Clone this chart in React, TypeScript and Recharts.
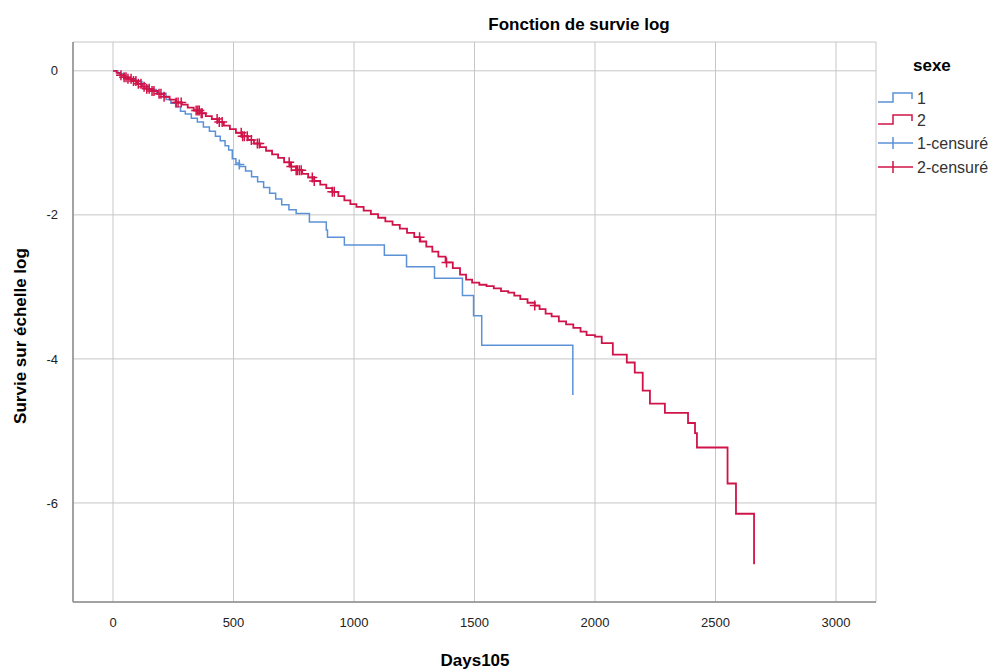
import React from "react";
import {
  ComposedChart,
  Line,
  Scatter,
  XAxis,
  YAxis,
  CartesianGrid,
} from "recharts";

// sexe = 1 : step points (day, log survival)
const days1 = [
  0, 20, 45, 70, 95, 120, 150, 180, 220, 240, 260, 280, 300, 325, 350, 375,
  400, 425, 445, 465, 480, 495, 510, 525, 550, 575, 600, 625, 650, 675, 700,
  730, 760, 815, 885, 890, 960, 1126, 1218, 1334, 1450, 1496, 1530, 1908, 1908,
];
const surv1 = [
  0, -0.04, -0.09, -0.12, -0.15, -0.21, -0.26, -0.31, -0.4, -0.45, -0.5,
  -0.56, -0.6, -0.66, -0.71, -0.78, -0.84, -0.91, -0.97, -1.04, -1.1, -1.22,
  -1.28, -1.33, -1.39, -1.47, -1.54, -1.62, -1.7, -1.78, -1.86, -1.93, -1.98,
  -2.1, -2.21, -2.31, -2.42, -2.56, -2.72, -2.88, -3.12, -3.4, -3.81, -3.81,
  -4.5,
];

// sexe = 2
const days2 = [
  0, 15, 30, 45, 60, 80, 100, 120, 140, 160, 185, 210, 235, 260, 285, 310,
  335, 360, 385, 410, 435, 460, 485, 510, 535, 560, 585, 610, 635, 660, 685,
  710, 735, 760, 785, 810, 835, 860, 885, 910, 935, 960, 985, 1010, 1040,
  1070, 1100, 1130, 1160, 1190, 1220, 1250, 1275, 1300, 1325, 1350, 1380,
  1410, 1440, 1465, 1490, 1520, 1550, 1580, 1610, 1640, 1665, 1690, 1720,
  1750, 1770, 1795, 1820, 1850, 1880, 1910, 1940, 1965, 2000, 2028, 2074,
  2132, 2165, 2198, 2228, 2290, 2386, 2415, 2423, 2550, 2585, 2660, 2660,
];
const surv2 = [
  0, -0.03, -0.06, -0.09, -0.11, -0.14, -0.18, -0.22, -0.25, -0.28, -0.32,
  -0.36, -0.4, -0.44, -0.47, -0.51, -0.55, -0.59, -0.63, -0.67, -0.71, -0.76,
  -0.81, -0.86, -0.91, -0.96, -1.01, -1.06, -1.11, -1.16, -1.21, -1.27,
  -1.33, -1.38, -1.43, -1.48, -1.53, -1.58, -1.63, -1.68, -1.74, -1.8, -1.85,
  -1.89, -1.94, -1.99, -2.04, -2.09, -2.14, -2.19, -2.25, -2.31, -2.37,
  -2.44, -2.51, -2.58, -2.66, -2.74, -2.83, -2.9, -2.94, -2.97, -2.99, -3.02,
  -3.06, -3.08, -3.12, -3.17, -3.22, -3.26, -3.31, -3.37, -3.41, -3.48,
  -3.52, -3.57, -3.62, -3.67, -3.69, -3.78, -3.94, -4.05, -4.19, -4.44,
  -4.62, -4.75, -4.89, -5.03, -5.23, -5.73, -6.15, -6.15, -6.85,
];

// censored cases
const cens1Days = [524];
const cens1Surv = [-1.3];
const cens2Days = [
  33, 46, 54, 62, 75, 85, 95, 105, 116, 129, 140, 150, 162, 170, 191, 199,
  212, 262, 270, 283, 345, 352, 358, 366, 370, 432, 441, 453, 532, 538, 545,
  557, 574, 599, 607, 731, 740, 760, 765, 773, 781, 827, 835, 910, 918, 1272,
  1384, 1750,
];
const cens2Surv = [
  -0.06, -0.09, -0.09, -0.11, -0.11, -0.14, -0.14, -0.18, -0.18, -0.22,
  -0.25, -0.25, -0.28, -0.28, -0.32, -0.32, -0.36, -0.44, -0.44, -0.44,
  -0.55, -0.55, -0.55, -0.59, -0.59, -0.67, -0.71, -0.71, -0.86, -0.91,
  -0.91, -0.91, -0.96, -1.01, -1.01, -1.27, -1.33, -1.38, -1.38, -1.38,
  -1.38, -1.48, -1.53, -1.68, -1.68, -2.31, -2.66, -3.26,
];

const xTicks = [0, 500, 1000, 1500, 2000, 2500, 3000];
const yTicks = [0, -2, -4, -6];

const BLUE = "#5b92d6";
const RED = "#d0144a";
const FONT = "'Liberation Sans', Arial, sans-serif";

const zip = (xs: number[], ys: number[]) => xs.map((d, i) => ({ d, v: ys[i] }));

const Plus = (color: string) => (props: any) => {
  const { cx, cy } = props;
  if (cx == null || cy == null) return null;
  return (
    <path
      d={`M${cx - 5},${cy}h10M${cx},${cy - 5}v10`}
      stroke={color}
      strokeWidth={1.5}
      fill="none"
    />
  );
};

function StepIcon({ y, color }: { y: number; color: string }) {
  return (
    <path
      d={`M878,${y + 4}H893V${y - 5}H912V${y + 1}`}
      stroke={color}
      strokeWidth={1.5}
      fill="none"
    />
  );
}

function CrossIcon({ y, color }: { y: number; color: string }) {
  return (
    <path
      d={`M878,${y}H913M893,${y - 6}V${y + 6}`}
      stroke={color}
      strokeWidth={1.5}
      fill="none"
    />
  );
}

function Texts() {
  return (
    <svg
      width={998}
      height={670}
      style={{ position: "absolute", left: 0, top: 0, pointerEvents: "none" }}
      fontFamily={FONT}
    >
      <text x={579} y={30} textAnchor="middle" fontSize={17} fontWeight="bold" fill="#000">
        Fonction de survie log
      </text>
      <text x={475} y={666} textAnchor="middle" fontSize={17} fontWeight="bold" fill="#000">
        Days105
      </text>
      <text
        transform="translate(26,336) rotate(-90)"
        textAnchor="middle"
        fontSize={17}
        fontWeight="bold"
        fill="#000"
      >
        Survie sur échelle log
      </text>
      <text x={913} y={71} fontSize={17} fontWeight="bold" fill="#000">
        sexe
      </text>
      <StepIcon y={98} color={BLUE} />
      <text x={917} y={104} fontSize={16} fill="#333">1</text>
      <StepIcon y={120} color={RED} />
      <text x={917} y={126} fontSize={16} fill="#333">2</text>
      <CrossIcon y={143} color={BLUE} />
      <text x={917} y={149} fontSize={16} fill="#333">1-censuré</text>
      <CrossIcon y={167} color={RED} />
      <text x={917} y={173} fontSize={16} fill="#333">2-censuré</text>
    </svg>
  );
}

export default function App() {
  return (
    <div style={{ position: "absolute", left: 0, top: 0, width: 998, height: 670, background: "#fff" }}>
      <ComposedChart
        width={998}
        height={670}
        margin={{ top: 42, right: 122, bottom: 0, left: 0 }}
      >
        <CartesianGrid stroke="#c6c6c6" strokeWidth={1} />
        <XAxis
          type="number"
          dataKey="d"
          domain={[-166, 3166]}
          ticks={xTicks}
          height={68}
          tickLine={false}
          axisLine={{ stroke: "#8c8c8c", strokeWidth: 1.5 }}
          tick={{ fontSize: 13, fill: "#222", fontFamily: FONT }}
          tickMargin={10}
          allowDuplicatedCategory={false}
        />
        <YAxis
          type="number"
          dataKey="v"
          domain={[-7.375, 0.4]}
          ticks={yTicks}
          width={73}
          tickLine={false}
          axisLine={{ stroke: "#8c8c8c", strokeWidth: 1.5 }}
          tick={{ fontSize: 13, fill: "#222", fontFamily: FONT }}
          tickMargin={9}
        />
        <Line
          data={zip(days1, surv1)}
          dataKey="v"
          type="stepAfter"
          stroke={BLUE}
          strokeWidth={1.5}
          dot={false}
          isAnimationActive={false}
        />
        <Line
          data={zip(days2, surv2)}
          dataKey="v"
          type="stepAfter"
          stroke={RED}
          strokeWidth={1.8}
          dot={false}
          isAnimationActive={false}
        />
        <Scatter
          data={zip(cens1Days, cens1Surv)}
          dataKey="v"
          shape={Plus(BLUE)}
          isAnimationActive={false}
        />
        <Scatter
          data={zip(cens2Days, cens2Surv)}
          dataKey="v"
          shape={Plus(RED)}
          isAnimationActive={false}
        />
      </ComposedChart>
      <Texts />
    </div>
  );
}
